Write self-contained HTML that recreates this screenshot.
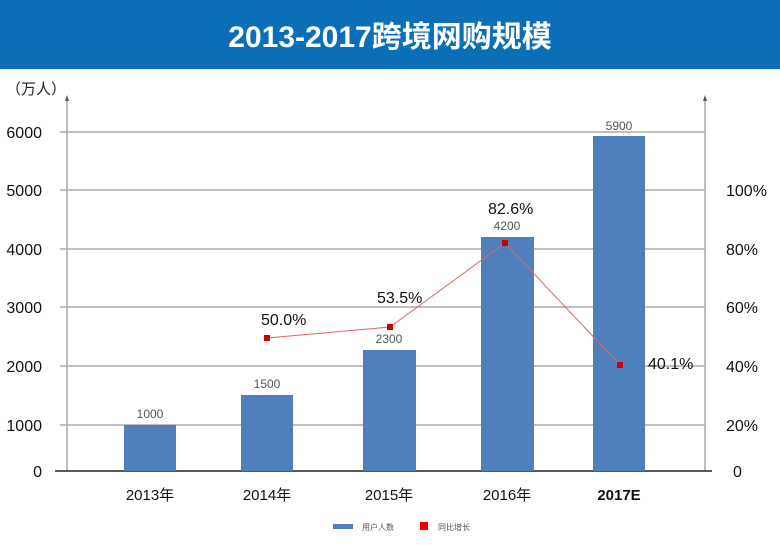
<!DOCTYPE html>
<html><head><meta charset="utf-8"><style>
body{margin:0;width:780px;height:540px;background:#fff;overflow:hidden;font-family:"Liberation Sans","Noto Sans CJK SC",sans-serif}
</style></head><body>
<svg width="780" height="540" xmlns="http://www.w3.org/2000/svg" font-family="Liberation Sans, Noto Sans CJK SC, sans-serif">
<rect x="0" y="0" width="780" height="69" fill="#0b6fb8"/>
<text x="390" y="47" text-anchor="middle" font-size="30" font-weight="bold" fill="#fff">2013-2017跨境网购规模</text>
<text x="6" y="94" font-size="15" fill="#222">（万人）</text>
<g stroke="#aaa" stroke-width="1.5">
<line x1="60" y1="132" x2="705" y2="132"/>
<line x1="60" y1="190" x2="705" y2="190"/>
<line x1="60" y1="249" x2="705" y2="249"/>
<line x1="60" y1="307" x2="705" y2="307"/>
<line x1="60" y1="366" x2="705" y2="366"/>
<line x1="60" y1="425" x2="705" y2="425"/>
<line x1="67" y1="100" x2="67" y2="471"/>
<line x1="705" y1="100" x2="705" y2="471"/>
</g>
<polygon points="67,95 65,101 69,101" fill="#555"/>
<polygon points="705,95 703,101 707,101" fill="#555"/>
<line x1="55" y1="471" x2="712" y2="471" stroke="#222" stroke-width="1.5"/>
<g fill="#4f80bd">
<rect x="124" y="425" width="52" height="46"/>
<rect x="241" y="395" width="52" height="76"/>
<rect x="363" y="350" width="53" height="121"/>
<rect x="481" y="237" width="53" height="234"/>
<rect x="593" y="136" width="52" height="335"/>
</g>
<g font-size="12" fill="#555" text-anchor="middle">
<text x="150" y="418">1000</text><text x="267" y="388">1500</text><text x="389" y="343">2300</text><text x="507" y="230">4200</text><text x="619" y="130">5900</text>
</g>
<g font-size="16" fill="#111" text-anchor="end">
<text x="42" y="138">6000</text><text x="42" y="196">5000</text><text x="42" y="255">4000</text><text x="42" y="313">3000</text><text x="42" y="372">2000</text><text x="42" y="431">1000</text><text x="42" y="477">0</text>
</g>
<g font-size="16" fill="#111">
<text x="726" y="196">100%</text><text x="726" y="255">80%</text><text x="726" y="313">60%</text><text x="726" y="372">40%</text><text x="726" y="431">20%</text><text x="733" y="477">0</text>
</g>
<g font-size="15" fill="#111" text-anchor="middle">
<text x="150" y="500">2013年</text><text x="267" y="500">2014年</text><text x="389" y="500">2015年</text><text x="507" y="500">2016年</text><text x="619" y="500" font-weight="bold">2017E</text>
</g>
<polyline points="267,338 390,327 505,243 620,365" fill="none" stroke="#e06666" stroke-width="1"/>
<g fill="#cc0000">
<rect x="264" y="335" width="6" height="6"/><rect x="387" y="324" width="6" height="6"/><rect x="502" y="240" width="6" height="6"/><rect x="617" y="362" width="6" height="6"/>
</g>
<g font-size="16" fill="#111">
<text x="261" y="325">50.0%</text><text x="377" y="303">53.5%</text><text x="488" y="214">82.6%</text><text x="648" y="369">40.1%</text>
</g>
<rect x="333" y="524" width="20" height="5" fill="#4f80bd"/>
<text x="362" y="530" font-size="8" fill="#555">用户人数</text>
<rect x="420" y="522" width="8" height="8" fill="#e00"/>
<text x="438" y="530" font-size="8" fill="#555">同比增长</text>
</svg>
</body></html>
